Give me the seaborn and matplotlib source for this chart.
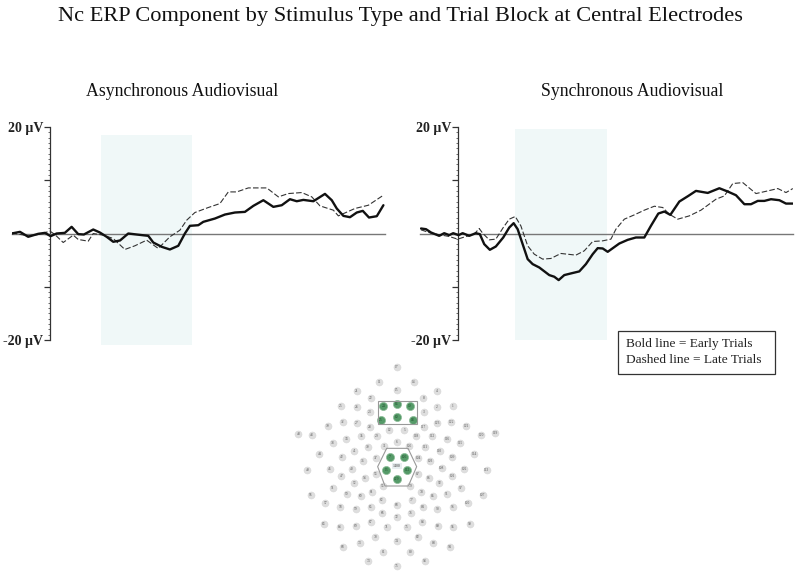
# Nc ERP component by stimulus type and trial block
import matplotlib
matplotlib.use("Agg")
import matplotlib.pyplot as plt
from matplotlib.patches import Polygon, Rectangle
from matplotlib.ticker import MultipleLocator
import pandas as pd
import seaborn as sns

# ---------- data ----------
async_early_t = [-194, -152, -111, -61, -27, 1, 31, 72, 106, 139, 167, 214, 247, 281, 314, 348, 389, 431, 489, 514,
                 556, 597, 639, 672, 697, 739, 764, 822, 872, 922, 972, 1014, 1064, 1114, 1156, 1197, 1231, 1264,
                 1314, 1372, 1406, 1431, 1464, 1497, 1531, 1561, 1592, 1631, 1664]
async_early_uv = [0, 0.31, -0.62, -0.06, 0.12, -0.5, 0, 0.12, 1.25, -0.12, -0.19, 0.75, 0.19, -0.62, -1.56, -1.31, 0,
                  -0.19, -0.44, -1.69, -2.5, -3.0, -2.31, 0, 1.44, 1.56, 2.19, 2.81, 3.56, 3.94, 4.06, 5.19,
                  6.25, 5.0, 5.31, 6.44, 6.06, 6.31, 6.06, 7.44, 6.25, 4.69, 3.31, 3.06, 3.94, 4.25, 3.0, 3.25, 5.31]
async_late_t = [-194, -111, -61, -2, 22, 64, 114, 139, 189, 214, 264, 314, 372, 422, 481, 539, 597, 647, 681,
                722, 789, 847, 889, 931, 989, 1081, 1139, 1189, 1256, 1306, 1347, 1414, 1439, 1522, 1589, 1664]
async_late_uv = [0.12, -0.44, -0.19, 0.44, -0.19, -1.69, -0.31, -1.12, -1.44, 0, -0.31, -0.94, -3.0, -2.31, -1.25,
                 -2.81, -0.62, 0.62, 2.5, 3.94, 4.88, 5.62, 7.81, 7.81, 8.56, 8.56, 6.88, 7.5, 7.69, 6.88, 5.19,
                 4.38, 3.31, 4.7, 5.31, 7.19]

sync_early_t = [-187, -162, -137, -96, -71, -46, -26, 1, 21, 54, 87, 107, 129, 157, 187, 224, 254, 276, 296, 321,
                346, 371, 404, 454, 479, 501, 529, 562, 604, 637, 671, 696, 721, 746, 804, 846, 887, 929, 962,
                999, 1029, 1059, 1104, 1149, 1187, 1246, 1304, 1346, 1387, 1429, 1462, 1496, 1529, 1562, 1604,
                1637, 1671]
sync_early_uv = [0.94, 0.81, 0.19, -0.44, 0.06, -0.31, 0.06, -0.31, 0.06, -0.44, 0.06, -0.12, -2.0, -3.06, -2.44,
                 -0.75, 1.12, 1.94, 0.81, -2.0, -4.81, -5.75, -6.38, -7.81, -8.12, -8.75, -7.81, -7.5, -7.12, -5.75,
                 -3.88, -2.75, -2.81, -3.44, -1.88, -1.19, -0.75, -0.75, 1.44, 3.75, 4.12, 3.5, 6.0, 7.06, 8.0,
                 7.62, 8.5, 7.88, 7.19, 5.5, 5.5, 6.12, 6.12, 6.44, 6.25, 5.62, 5.62]
sync_late_t = [-187, -137, -46, -4, 38, 79, 104, 121, 154, 187, 224, 254, 284, 312, 346, 379, 421, 462, 512, 587,
               629, 671, 721, 762, 787, 829, 879, 929, 979, 1021, 1054, 1096, 1154, 1212, 1287, 1329, 1371, 1421,
               1487, 1546, 1596, 1637, 1671]
sync_late_uv = [0.69, 0.06, -0.56, -1.06, -0.56, -0.12, 0.94, 0.06, -1.19, -1.06, 1.12, 2.69, 3.19, 1.44, -2.31,
                -3.88, -4.81, -4.69, -3.75, -4.06, -3.25, -1.5, -1.38, -1.06, 0.81, 2.69, 3.5, 4.38, 5.12, 4.88,
                3.62, 2.69, 3.31, 4.38, 6.44, 7.06, 9.38, 9.56, 7.5, 8.0, 8.44, 7.69, 8.44]

# shaded Nc window: start, end, top, bottom
async_window = [252, 708, 18.5, -21]
sync_window = [284, 742, 19.7, -20]

# sensor net layout
sensor_x = [350, 298, 402, 350, 231, 470, 272, 430, 182, 230, 471, 519, 269, 432, 188, 230, 471, 513, 558, 143,
            269, 328, 373, 431, 55, 96, 604, 646, 244, 291, 409, 457, 199, 501, 158, 541, 350, 313, 388, 264,
            436, 223, 479, 118, 583, 185, 516, 288, 414, 249, 451, 82, 149, 216, 485, 552, 620, 184, 516, 288,
            413, 255, 446, 223, 478, 158, 543, 309, 391, 276, 424, 92, 608, 200, 242, 459, 501, 306, 395, 136,
            563, 350, 181, 228, 272, 428, 472, 518, 307, 393, 350, 131, 180, 227, 272, 427, 473, 519, 569, 320,
            380, 286, 414, 350, 239, 460, 189, 510, 310, 391, 265, 435, 350]
sensor_y = [20, 65, 65, 90, 94, 94, 113, 113, 138, 140, 140, 138, 157, 157, 187, 188, 188, 187, 197, 197,
            200, 209, 209, 200, 221, 224, 224, 220, 228, 228, 228, 228, 238, 238, 250, 250, 245, 258, 258, 261,
            261, 273, 273, 281, 281, 291, 291, 294, 294, 304, 303, 329, 326, 326, 325, 326, 329, 349, 349, 343,
            343, 354, 354, 368, 368, 384, 384, 378, 378, 396, 396, 404, 404, 402, 407, 407, 402, 420, 420, 428,
            428, 434, 442, 447, 440, 440, 447, 442, 460, 460, 470, 492, 500, 497, 485, 485, 497, 500, 492, 502,
            502, 532, 532, 544, 550, 549, 560, 560, 577, 577, 602, 602, 618]
sensor_labels = ["17", "11", "14", "15", "21", "4", "22", "8", "25", "26", "2", "1", "23", "3", "32", "27", "123",
                 "122", "121", "39", "28", "12", "5", "117", "48", "43", "120", "119", "35", "29", "118", "112",
                 "34", "116", "38", "115", "6", "31", "105", "30", "111", "41", "110", "44", "114", "42", "109",
                 "37", "104", "36", "103", "49", "45", "40", "108", "102", "113", "47", "101", "53", "87", "54",
                 "86", "52", "92", "51", "97", "55", "79", "61", "78", "56", "107", "50", "60", "85", "91", "62",
                 "77", "57", "100", "68", "58", "59", "65", "84", "90", "96", "66", "76", "72", "63", "64", "69",
                 "67", "83", "89", "95", "99", "71", "75", "70", "82", "74", "73", "88", "68", "94", "81", "80",
                 "73", "93", "75"]
green_x = [310, 350, 390, 303, 350, 398, 330, 372, 318, 382, 350]
green_y = [139, 133, 139, 180, 171, 180, 290, 290, 331, 331, 357]
green_labels = ["24", "16", "19", "25", "10", "18", "7", "106", "13", "112", "129"]
vref_x = [350]
vref_y = [318]
vref_labels = ["1400"]
frontal_box = [293, 122, 119, 71]
central_hex = [(320, 265), (384, 265), (410, 320), (385, 378), (315, 378), (293, 320)]

# ---------- figure ----------
sns.set_theme(style="white")
plt.rcParams["font.family"] = "Liberation Serif"

W, H = 800, 577
fig = plt.figure(figsize=(W / 100, H / 100), dpi=100)


def px_axes(x0, y0, x1, y1):
    # axes from pixel box, y counted from the top
    return fig.add_axes([x0 / W, 1 - y1 / H, (x1 - x0) / W, (y1 - y0) / H])


def erp_panel(ax, window, early_t, early_uv, late_t, late_uv):
    ax.add_patch(Rectangle((window[0], window[3]), window[1] - window[0], window[2] - window[3],
                           facecolor="#f0f8f8", edgecolor="none", zorder=0, clip_on=False))
    early = pd.DataFrame({"t": early_t, "uv": early_uv})
    late = pd.DataFrame({"t": late_t, "uv": late_uv})
    sns.lineplot(data=late, x="t", y="uv", ax=ax, color="#333333", lw=0.8, linestyle=(0, (5, 2)), zorder=3)
    sns.lineplot(data=early, x="t", y="uv", ax=ax, color="#111111", lw=1.7, zorder=4)
    ax.set_xlim(-192, 1672)
    ax.set_ylim(-20, 20)
    ax.patch.set_alpha(0)
    ax.set_xlabel("")
    ax.set_ylabel("")
    ax.spines["left"].set_position(("data", 0))
    ax.spines["left"].set_color("#333333")
    ax.spines["left"].set_linewidth(0.9)
    ax.spines["bottom"].set_position(("data", 0))
    ax.spines["bottom"].set_color("#777777")
    ax.spines["bottom"].set_linewidth(1.0)
    ax.spines["top"].set_visible(False)
    ax.spines["right"].set_visible(False)
    # spine moves reset the ticks, so ticks come after them
    ax.set_xticks([])
    ax.set_yticks([-20, -10, 0, 10, 20])
    ax.set_yticklabels(["-20 µV", "", "", "", "20 µV"], fontsize=10, fontweight="bold", color="#222222")
    ax.yaxis.set_minor_locator(MultipleLocator(1))
    ax.tick_params(axis="y", which="major", left=True, length=4, width=0.9, color="#333333", pad=1)
    ax.tick_params(axis="y", which="minor", left=True, length=1.2, width=0.6, color="#555555")


ax1 = px_axes(12, 127, 385, 340)
erp_panel(ax1, async_window, async_early_t, async_early_uv, async_late_t, async_late_uv)
ax2 = px_axes(420, 127, 793, 340)
erp_panel(ax2, sync_window, sync_early_t, sync_early_uv, sync_late_t, sync_late_uv)

# titles
fig.text(400 / W, 1 - 16 / H, "Nc ERP Component by Stimulus Type and Trial Block at Central Electrodes",
         ha="center", va="center", fontsize=16.15, color="#111111")
fig.text(182 / W, 1 - 92 / H, "Asynchronous Audiovisual", ha="center", va="center", fontsize=12.8, color="#111111")
fig.text(632 / W, 1 - 92 / H, "Synchronous Audiovisual", ha="center", va="center", fontsize=12.8, color="#111111")

# legend box
fig.add_artist(Rectangle((618 / W, 1 - 374 / H), 157 / W, 43 / H, transform=fig.transFigure,
                         facecolor="white", edgecolor="#333333", lw=0.9))
fig.text(626 / W, 1 - 344 / H, "Bold line = Early Trials", ha="left", va="center", fontsize=9.6, color="#222222")
fig.text(626 / W, 1 - 360 / H, "Dashed line = Late Trials", ha="left", va="center", fontsize=9.6, color="#222222")

# sensor net
ax3 = px_axes(280, 360, 510, 575)
sensors = pd.DataFrame({"x": sensor_x, "y": sensor_y})
greens = pd.DataFrame({"x": green_x, "y": green_y})
sns.scatterplot(data=sensors, x="x", y="y", ax=ax3, s=26, color="#dedede", edgecolor="#d6d6d6", linewidth=0.3)
sns.scatterplot(data=greens, x="x", y="y", ax=ax3, s=34, color="#559a68", edgecolor="#8dbd99", linewidth=0.5)
ax3.add_patch(Rectangle((frontal_box[0], frontal_box[1]), frontal_box[2], frontal_box[3],
                        facecolor="none", edgecolor="#999999", lw=0.8))
ax3.add_patch(Polygon(central_hex, closed=True, facecolor="none", edgecolor="#999999", lw=0.8))
for x, y, s in zip(sensor_x, sensor_y, sensor_labels):
    ax3.text(x, y, s, fontsize=2.6, ha="center", va="center", color="#555555")
for x, y, s in zip(green_x, green_y, green_labels):
    ax3.text(x, y, s, fontsize=2.6, ha="center", va="center", color="#1d4a2a")
for x, y, s in zip(vref_x, vref_y, vref_labels):
    ax3.text(x, y, s, fontsize=2.8, ha="center", va="center", color="#333333",
             bbox=dict(facecolor="#e8eef0", edgecolor="none", pad=0.8))
ax3.set_xlim(0, 690)
ax3.set_ylim(645, 0)
ax3.set_xlabel("")
ax3.set_ylabel("")
ax3.axis("off")

fig.savefig("out.png", dpi=100)
